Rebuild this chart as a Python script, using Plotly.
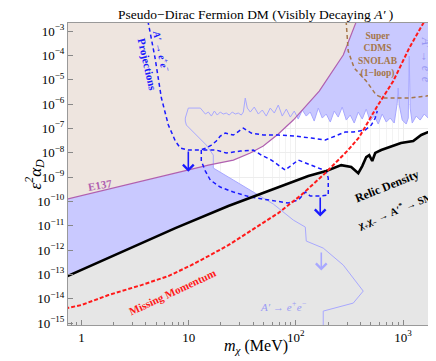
import numpy as np
import plotly.graph_objects as go

# Curves, stored as log10(m_chi / MeV) and log10(eps^2 alpha_D)

# relic density target (black)
relic_logm = [-0.13, 0.252, 0.559, 0.876, 1.37, 1.817, 2.116, 2.283, 2.423, 2.516, 2.582,
              2.619, 2.656, 2.684, 2.712, 2.74, 2.796, 2.98, 3.094, 3.169, 3.374, 3.6]
relic_logy = [-13.07, -12.33, -11.71, -11.10, -10.19, -9.45, -8.96, -8.75, -8.51, -8.59, -8.84,
              -8.55, -8.18, -8.10, -8.34, -8.01, -7.89, -7.60, -7.52, -7.27, -6.90, -6.5]

# missing momentum projection (red dashed)
mm_logm = [-0.15, 0.0, 0.252, 0.559, 0.811, 1.025, 1.184, 1.37, 1.603, 1.836, 2.05, 2.274,
           2.488, 2.591, 2.749, 2.908, 3.057, 3.187, 3.25]
mm_logy = [-14.40, -14.26, -13.85, -13.44, -13.07, -12.62, -12.25, -11.80, -11.14, -10.48, -9.74,
           -8.84, -7.89, -7.36, -6.16, -5.06, -3.70, -2.67, -2.2]

# E137 (purple)
e137_logm = [-0.13, 0.186, 0.503, 0.811, 1.184, 1.417, 1.575, 1.696, 1.836, 1.976, 2.218, 2.442, 2.563, 2.6]
e137_logy = [-9.905, -9.576, -9.247, -8.918, -8.508, -8.302, -8.014, -7.727, -7.233, -6.658,
             -5.466, -3.986, -2.671, -2.2]

# existing A' -> e+e- bounds: upper (collider) edge, left to right
vis_up_logm = [0.969, 0.997, 1.109, 1.156, 1.184, 1.212, 1.240, 1.267, 1.295, 1.323, 1.351, 1.379,
               1.407, 1.435, 1.463, 1.491, 1.510, 1.528, 1.547, 1.575, 1.612, 1.650, 1.687, 1.724,
               1.761, 1.799, 1.836, 1.873, 1.911, 1.948, 1.985, 2.022, 2.060, 2.097, 2.134, 2.171,
               2.209, 2.246, 2.283, 2.321, 2.358, 2.395, 2.432, 2.470, 2.507, 2.544, 2.582, 2.619,
               2.656, 2.693, 2.731, 2.768, 2.805, 2.843, 2.880, 2.917, 2.945, 2.954, 2.964, 2.992,
               3.029, 3.048, 3.057, 3.066, 3.085, 3.122, 3.159, 3.197, 3.234, 3.271, 3.308, 3.346, 3.383]
vis_up_logy = [-6.576, -6.165, -6.165, -6.411, -6.329, -6.494, -6.288, -6.452, -6.329, -6.411, -6.370,
               -6.452, -6.329, -6.411, -6.370, -6.452, -6.329, -5.754, -6.165, -6.329, -6.124, -6.411,
               -6.247, -6.494, -6.165, -6.370, -6.041, -6.494, -6.206, -6.535, -6.288, -6.617, -6.247,
               -6.494, -6.329, -6.699, -6.165, -6.576, -6.411, -6.740, -6.288, -6.535, -6.124, -6.658,
               -6.452, -6.781, -6.329, -6.617, -6.206, -6.699, -6.494, -6.822, -6.411, -6.740, -6.576,
               -6.781, -5.959, -5.343, -6.041, -6.658, -6.822, -6.576, -4.028, -6.165, -6.781, -6.494,
               -6.658, -6.411, -6.576, -6.329, -6.535, -6.411, -6.494]
# lower (beam dump) edge, from the junction downwards
vis_lo_logm = [0.969, 0.979, 1.072, 1.165, 1.230, 1.230, 1.417, 1.603, 1.790, 1.976, 2.088, 2.097,
               2.255, 2.442, 2.628, 2.535, 2.255, 2.255]
vis_lo_logy = [-6.699, -6.864, -7.275, -7.686, -8.097, -8.631, -9.124, -9.617, -10.110, -10.768,
               -11.056, -11.631, -11.919, -12.618, -13.686, -14.180, -14.509, -15.4]

# projections (blue dashed)
proj_a_logm = [0.61, 0.624, 0.687, 0.746, 0.811, 0.876, 0.923, 0.997, 1.109, 1.165, 1.212, 1.258,
               1.295, 1.342, 1.417, 1.510, 1.584, 1.696, 1.836, 1.994, 2.144, 2.274, 2.367, 2.460,
               2.535, 2.647, 2.703, 2.740, 2.759]
proj_a_logy = [-2.3, -2.671, -4.110, -5.754, -6.863, -7.521, -7.809, -7.891, -7.891, -7.809, -7.686,
               -7.521, -7.316, -7.192, -7.275, -6.987, -7.192, -7.275, -7.275, -7.316, -7.398, -7.480,
               -7.316, -7.151, -7.151, -7.069, -6.864, -6.576, -6.288]
proj_b_logm = [1.118, 1.118, 1.156, 1.202, 1.295, 1.417, 1.575, 1.743, 1.929, 2.022, 2.088, 2.134,
               2.227, 2.302, 2.302, 2.283, 2.144, 2.022, 1.901, 1.771, 1.678, 1.603, 1.482, 1.351,
               1.258, 1.118]
proj_b_logy = [-7.891, -8.343, -8.754, -9.124, -9.412, -9.617, -9.823, -9.946, -10.069, -9.946,
               -9.617, -9.782, -9.782, -9.741, -9.042, -8.754, -8.508, -8.302, -8.713, -8.302,
               -8.097, -7.891, -7.932, -8.014, -7.891, -7.891]

# SuperCDMS SNOLAB (1-loop), brown dashed
cdms_logm = [2.468, 2.470, 2.488, 2.544, 2.656, 2.749, 2.815, 3.057, 3.215, 3.383]
cdms_logy = [-2.3, -2.671, -3.822, -4.521, -5.055, -5.630, -5.754, -5.754, -5.672, -5.548]

# arrows: (log m, log y tail, log y head)
arrows = [(0.997, -7.89, -8.78, "#1A1AFF"),
          (2.227, -9.78, -10.62, "#1A1AFF"),
          (2.237, -12.04, -12.84, "#A8A8FF")]

LAV = "#C9C9FF"
BEIGE = "#EEE5DF"
GRAY = "#E6E6E6"
LBLUE = "#A8A8FF"
BLUE = "#1A1AFF"
RED = "#FF1A1A"
PURPLE = "#B060B0"
BROWN = "#A5764A"
FONT = "Liberation Serif"


def v(a):
    return 10 ** np.array(a, dtype=float)


fig = go.Figure()

# lavender: everything outside the visible-decay window
lav_m = [-0.5, 3.6, 3.6] + vis_up_logm[::-1] + vis_lo_logm + [2.255, -0.5]
lav_y = [-2.0, -2.0, vis_up_logy[-1]] + vis_up_logy[::-1] + vis_lo_logy + [-16.0, -16.0]
fig.add_trace(go.Scatter(x=v(lav_m), y=v(lav_y), fill="toself", fillcolor=LAV,
                         mode="none", hoverinfo="skip"))

# E137 region
fig.add_trace(go.Scatter(x=v(e137_logm + [-0.5, -0.5]), y=v(e137_logy + [-2.0, e137_logy[0]]),
                         fill="toself", fillcolor=BEIGE, mode="none", hoverinfo="skip"))

# below relic line
fig.add_trace(go.Scatter(x=v(relic_logm + [3.6, -0.5, -0.5]), y=v(relic_logy + [-16.0, -16.0, relic_logy[0]]),
                         fill="toself", fillcolor=GRAY, mode="none", hoverinfo="skip"))

# lines
fig.add_trace(go.Scatter(x=v(vis_up_logm[::-1] + vis_lo_logm), y=v(vis_up_logy[::-1] + vis_lo_logy),
                         mode="lines", line=dict(color=LBLUE, width=1)))
fig.add_trace(go.Scatter(x=v(e137_logm), y=v(e137_logy), mode="lines",
                         line=dict(color=PURPLE, width=1.2)))
fig.add_trace(go.Scatter(x=v(cdms_logm), y=v(cdms_logy), mode="lines",
                         line=dict(color=BROWN, width=1.5, dash="4px,3px")))
fig.add_trace(go.Scatter(x=v(proj_a_logm), y=v(proj_a_logy), mode="lines",
                         line=dict(color=BLUE, width=1.5, dash="4px,3px")))
fig.add_trace(go.Scatter(x=v(proj_b_logm), y=v(proj_b_logy), mode="lines",
                         line=dict(color=BLUE, width=1.5, dash="4px,3px")))
fig.add_trace(go.Scatter(x=v(relic_logm), y=v(relic_logy), mode="lines",
                         line=dict(color="black", width=2.6)))
fig.add_trace(go.Scatter(x=v(mm_logm), y=v(mm_logy), mode="lines",
                         line=dict(color=RED, width=2, dash="4px,2px")))

for xm, y0, y1, c in arrows:
    fig.add_annotation(x=xm, y=y1, ax=xm, ay=y0, xref="x", yref="y", axref="x", ayref="y",
                       showarrow=True, arrowhead=4, arrowsize=1.3, arrowwidth=1.6,
                       arrowcolor=c, text="")

labels = [
    ("Projections", 0.615, -4.40, 77, BLUE, 11, True, False),
    ("A′ → e<sup>+</sup>e<sup>−</sup>", 0.746, -3.82, 78, BLUE, 10, True, True),
    ("E137", 0.177, -9.33, -10, PURPLE, 11, True, False),
    ("Super<br>CDMS<br>SNOLAB<br>(1−loop)", 2.768, -3.99, 0, BROWN, 9.5, True, False),
    ("A′ → e<sup>+</sup>e<sup>−</sup>", 3.215, -4.27, 90, "#9696F2", 12, False, True),
    ("Relic Density", 2.852, -9.37, -22, "black", 12, True, False),
    ("χ<sub>+</sub>χ<sub>−</sub> → A′<sup>*</sup> → SM", 2.93, -10.40, -22, "black", 10.5, True, False),
    ("Missing Momentum", 0.848, -13.71, -25, RED, 11, True, False),
    ("A′ → e<sup>+</sup>e<sup>−</sup>", 1.883, -14.30, 0, "#9A9AF5", 11, False, True),
]
for t, xm, ym, ang, c, s, bold, ital in labels:
    if bold:
        t = "<b>" + t + "</b>"
    if ital:
        t = "<i>" + t + "</i>"
    fig.add_annotation(x=xm, y=ym, xref="x", yref="y", text=t, showarrow=False,
                       textangle=ang, font=dict(family=FONT, size=s, color=c))

# axis titles
fig.add_annotation(x=0.5, y=-0.11, xref="paper", yref="paper", showarrow=False,
                   text="<i>m<sub>χ</sub></i> (MeV)", font=dict(family=FONT, size=16, color="black"))
fig.add_annotation(x=-0.128, y=0.5, xref="paper", yref="paper", showarrow=False, textangle=-90,
                   text="<i>ε<sup>2</sup>α<sub>D</sub></i>", font=dict(family=FONT, size=17, color="black"))

xtv = [1, 10, 100, 1000]
xtt = ["1", "10", "10<sup>2</sup>", "10<sup>3</sup>"]
ytv = [10.0 ** k for k in range(-15, -2)]
ytt = ["10<sup>−%d</sup>" % (-k) for k in range(-15, -2)]
xminor = [a * 10 ** k for k in range(-1, 4) for a in range(2, 10)]

fig.update_layout(
    template="none",
    width=436, height=361,
    margin=dict(l=60, r=1, t=15, b=44, autoexpand=False),
    paper_bgcolor="white", plot_bgcolor="white",
    showlegend=False,
    font=dict(family=FONT, size=13, color="black"),
    title=dict(text="Pseudo−Dirac Fermion DM (Visibly Decaying <i>A′</i> )",
               x=0.568, xanchor="center", y=0.982, yanchor="middle",
               font=dict(family=FONT, size=13.5, color="black")),
)
fig.update_xaxes(type="log", range=[-0.125, 3.372], tickmode="array", tickvals=xtv, ticktext=xtt,
                 ticks="inside", ticklen=5, tickcolor="#888", showline=True, linecolor="#999",
                 mirror=True, showgrid=True, gridcolor="#EDEDED", zeroline=False, automargin=False,
                 minor=dict(tickmode="array", tickvals=xminor, ticks="inside", ticklen=3,
                            tickcolor="#888", showgrid=True, gridcolor="#F3F3F3"))
fig.update_yaxes(type="log", range=[-15.08, -2.67], tickmode="array", tickvals=ytv, ticktext=ytt,
                 ticks="inside", ticklen=5, tickcolor="#888", showline=True, linecolor="#999",
                 mirror=True, showgrid=True, gridcolor="#EDEDED", zeroline=False, automargin=False)

fig.write_html("out.html")
